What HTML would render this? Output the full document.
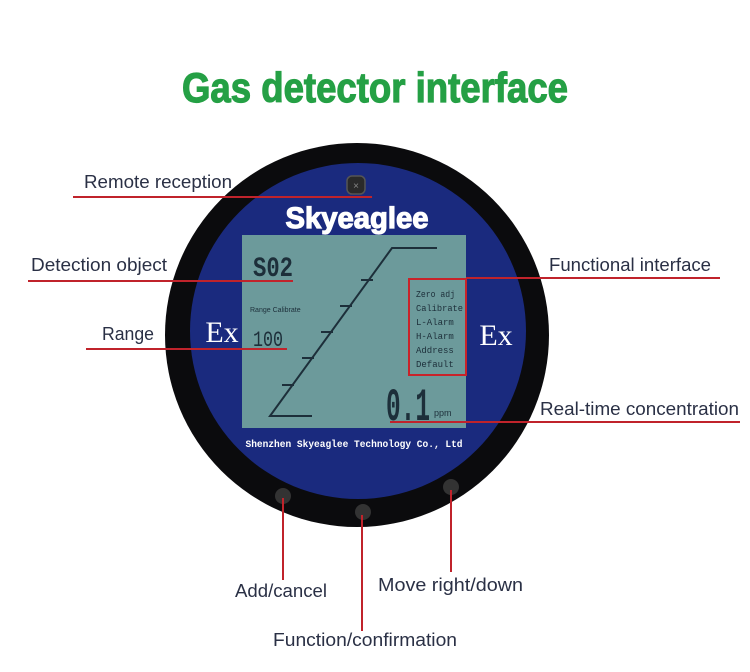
<!DOCTYPE html>
<html><head><meta charset="utf-8"><style>
html,body{margin:0;padding:0;background:#fff;}
svg{display:block}
.l{font-family:"Liberation Sans",sans-serif;font-size:18px;fill:#2a3045;}
.m{font-family:"Liberation Mono",monospace;font-size:9px;fill:#1d2f3a;}
</style></head><body>
<svg width="750" height="672" viewBox="0 0 750 672" xmlns="http://www.w3.org/2000/svg">
<text x="375" y="102" text-anchor="middle" font-family="Liberation Sans Narrow, Liberation Sans, sans-serif" font-weight="bold" font-size="42" fill="#25a045" stroke="#25a045" stroke-width="1.2" textLength="386" lengthAdjust="spacingAndGlyphs">Gas detector interface</text>

<circle cx="357" cy="335" r="192" fill="#0b0b0d"/>
<circle cx="358" cy="331" r="168" fill="#1a2a7e"/>
<rect x="347" y="176" width="18" height="18" rx="5" fill="#2a2a2a" stroke="#555" stroke-width="1.5"/>
<text x="356" y="189" text-anchor="middle" font-size="10" fill="#888" font-family="Liberation Sans,sans-serif">×</text>
<text x="357" y="228" text-anchor="middle" font-family="Liberation Sans,sans-serif" font-weight="bold" font-size="30" fill="#fff" stroke="#fff" stroke-width="1.2" textLength="143" lengthAdjust="spacingAndGlyphs">Skyeaglee</text>

<rect x="242" y="235" width="224" height="193" fill="#6c9a9b"/>
<text x="222" y="342" text-anchor="middle" font-family="Liberation Serif,serif" font-size="30" fill="#fff">Ex</text>
<text x="496" y="345" text-anchor="middle" font-family="Liberation Serif,serif" font-size="30" fill="#fff">Ex</text>
<text x="253" y="276" font-family="Liberation Mono,monospace" font-weight="bold" font-size="28" fill="#1d2f3a" textLength="40" lengthAdjust="spacingAndGlyphs">S02</text>
<text x="250" y="312" font-family="Liberation Sans,sans-serif" font-size="7" fill="#1d2f3a">Range Calibrate</text>
<text x="253" y="346" font-family="Liberation Mono,monospace" font-size="22" fill="#1d2f3a" textLength="30" lengthAdjust="spacingAndGlyphs">100</text>
<g stroke="#1d2f3a" stroke-width="2" fill="none">
<polyline points="312,416 270,416 392,248 437,248"/>
<line x1="282" y1="385" x2="294" y2="385"/>
<line x1="302" y1="358" x2="314" y2="358"/>
<line x1="321" y1="332" x2="333" y2="332"/>
<line x1="340" y1="306" x2="352" y2="306"/>
<line x1="361" y1="280" x2="373" y2="280"/>
</g>
<rect x="409" y="279" width="57" height="96" fill="none" stroke="#c8232a" stroke-width="2"/>
<text class="m" x="416" y="297" textLength="39" lengthAdjust="spacingAndGlyphs">Zero adj</text>
<text class="m" x="416" y="311" textLength="47" lengthAdjust="spacingAndGlyphs">Calibrate</text>
<text class="m" x="416" y="325">L-Alarm</text>
<text class="m" x="416" y="339">H-Alarm</text>
<text class="m" x="416" y="353">Address</text>
<text class="m" x="416" y="367">Default</text>
<text x="386" y="420" font-family="Liberation Mono,monospace" font-weight="bold" font-size="46" fill="#1d2f3a" textLength="44" lengthAdjust="spacingAndGlyphs">0.1</text>
<text x="434" y="416" font-family="Liberation Sans,sans-serif" font-size="9" fill="#1d2f3a">ppm</text>
<text x="354" y="447" text-anchor="middle" font-family="Liberation Mono,monospace" font-weight="bold" font-size="10" fill="#fff" textLength="217" lengthAdjust="spacingAndGlyphs">Shenzhen Skyeaglee Technology Co., Ltd</text>

<circle cx="283" cy="496" r="8" fill="#333"/>
<circle cx="363" cy="512" r="8" fill="#333"/>
<circle cx="451" cy="487" r="8" fill="#333"/>

<g stroke="#c0232b" stroke-width="2">
<line x1="73" y1="197" x2="372" y2="197"/>
<line x1="28" y1="281" x2="293" y2="281"/>
<line x1="86" y1="349" x2="287" y2="349"/>
<line x1="466" y1="278" x2="720" y2="278"/>
<line x1="390" y1="422" x2="740" y2="422"/>
<line x1="283" y1="498" x2="283" y2="580"/>
<line x1="362" y1="515" x2="362" y2="631"/>
<line x1="451" y1="490" x2="451" y2="572"/>
</g>
<text class="l" x="84" y="188" textLength="148" lengthAdjust="spacingAndGlyphs">Remote reception</text>
<text class="l" x="31" y="271" textLength="136" lengthAdjust="spacingAndGlyphs">Detection object</text>
<text class="l" x="102" y="340" textLength="52" lengthAdjust="spacingAndGlyphs">Range</text>
<text class="l" x="549" y="271" textLength="162" lengthAdjust="spacingAndGlyphs">Functional interface</text>
<text class="l" x="540" y="415" textLength="199" lengthAdjust="spacingAndGlyphs">Real-time concentration</text>
<text class="l" x="235" y="597" textLength="92" lengthAdjust="spacingAndGlyphs">Add/cancel</text>
<text class="l" x="378" y="591" textLength="145" lengthAdjust="spacingAndGlyphs">Move right/down</text>
<text class="l" x="273" y="646" textLength="184" lengthAdjust="spacingAndGlyphs">Function/confirmation</text>
</svg>
</body></html>
